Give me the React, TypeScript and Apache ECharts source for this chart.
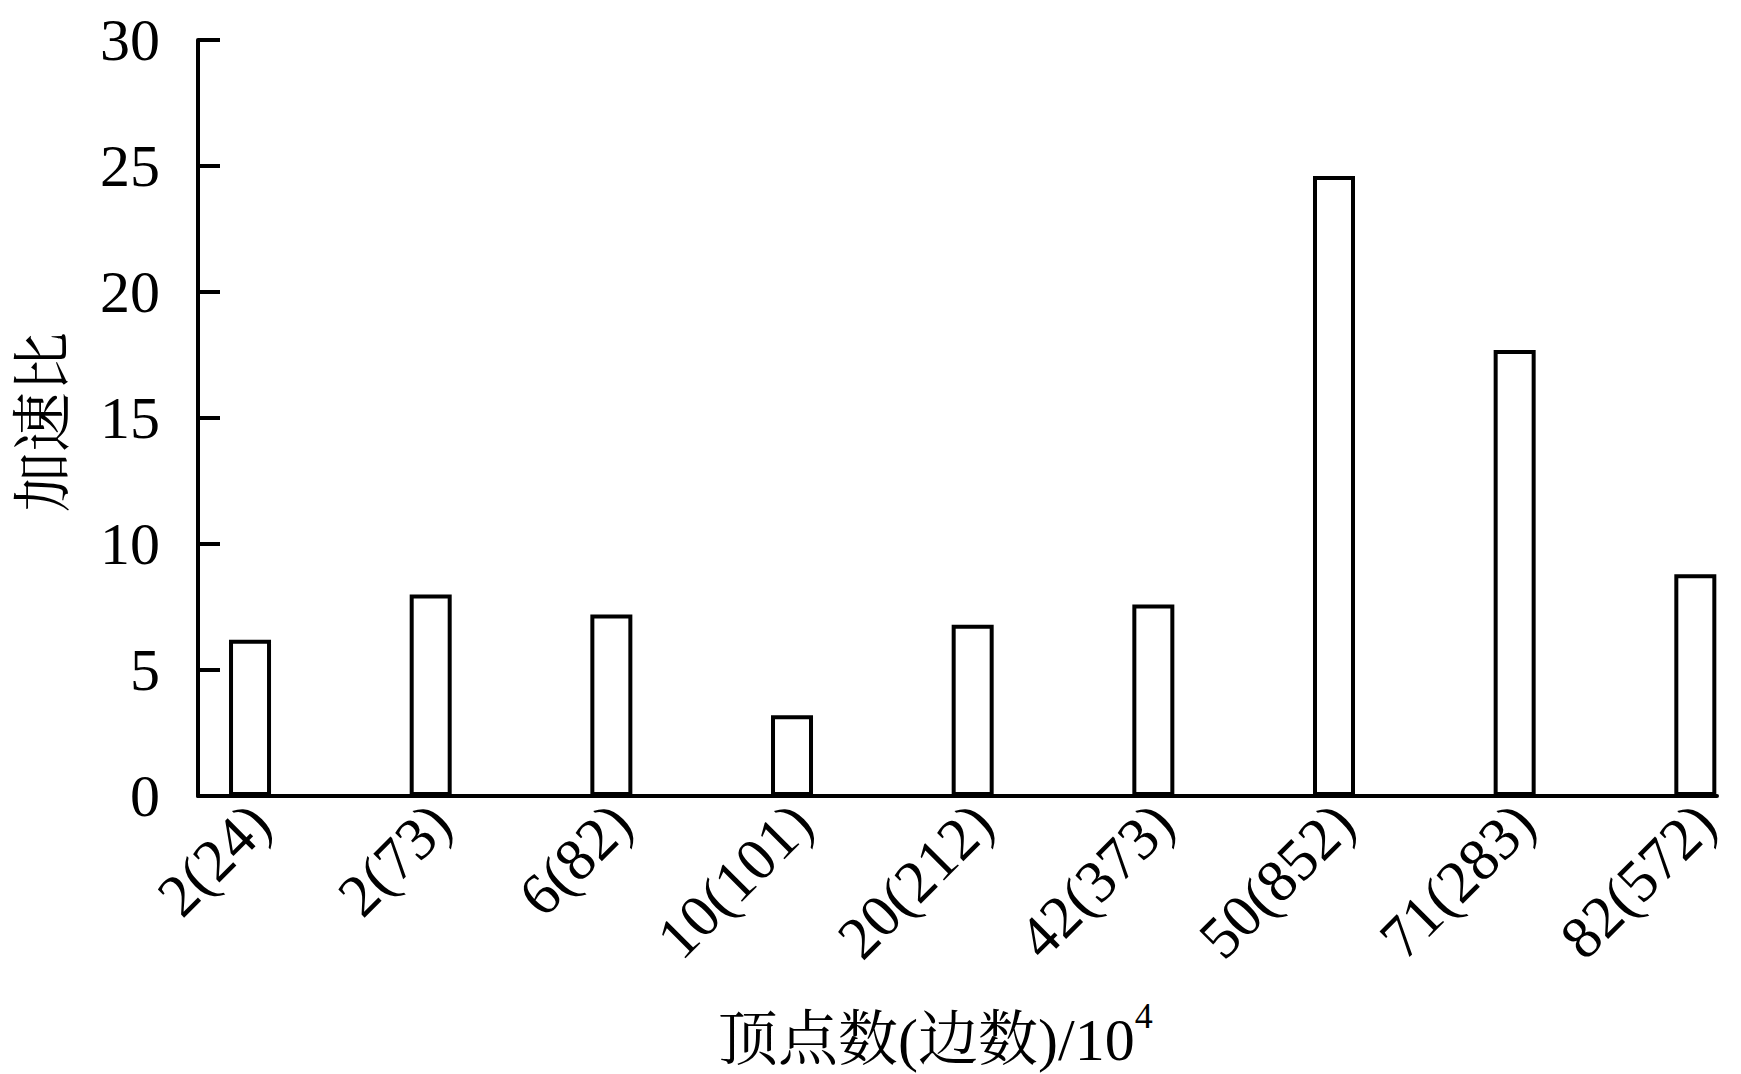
import React, { useEffect, useRef } from "react";
import * as echarts from "echarts";

const categories = ["2(24)", "2(73)", "6(82)", "10(101)", "20(212)", "42(373)", "50(852)", "71(283)", "82(572)"];
const speedup = [6.2, 8.0, 7.2, 3.2, 6.8, 7.6, 24.6, 17.7, 8.8];
const yTicks = [0, 5, 10, 15, 20, 25, 30];
const xTitle = "顶点数(边数)/10";
const xTitleSup = "4";
const yTitle = "加速比";

const FONT = '"Times New Roman", "Liberation Serif", "Noto Serif CJK SC", "Noto Sans CJK SC", serif';

export default function App() {
  const ref = useRef<HTMLDivElement>(null);
  useEffect(() => {
    if (!ref.current) return;
    const chart = echarts.init(ref.current, null, { renderer: "svg" });
    const idx = categories.map((_, i) => i);
    chart.setOption({
      animation: false,
      backgroundColor: "#ffffff",
      grid: { left: 198, right: 24, top: 40, bottom: 278, containLabel: false, outerBoundsMode: "none" },
      xAxis: {
        type: "value",
        min: -0.288,
        max: 8.12,
        splitLine: { show: false },
        axisTick: { show: false },
        axisLine: { show: true, onZero: false, lineStyle: { color: "#000", width: 4 } },
        axisLabel: {
          customValues: idx,
          formatter: (v: number) => categories[Math.round(v)] ?? "",
          rotate: 45,
          margin: -15,
          align: "right",
          verticalAlign: "top",
          padding: [0, 16, 0, 0],
          color: "#000",
          fontSize: 60,
          fontFamily: FONT,
        },
      },
      yAxis: {
        type: "value",
        min: yTicks[0],
        max: yTicks[yTicks.length - 1],
        interval: 5,
        splitLine: { show: false },
        axisLine: { show: true, onZero: false, lineStyle: { color: "#000", width: 4 } },
        axisTick: { show: true, inside: true, length: 22, lineStyle: { color: "#000", width: 4 } },
        axisLabel: { margin: 38, color: "#000", fontSize: 60, fontFamily: FONT },
      },
      series: [
        {
          type: "bar",
          data: speedup.map((v, i) => [i, v]),
          barWidth: 42,
          itemStyle: { color: "#ffffff", borderColor: "#000", borderWidth: 4 },
          z: 1,
        },
      ],
      graphic: [
        {
          type: "text",
          left: 718,
          top: 998,
          style: {
            text: `{a|${xTitle}}{s|${xTitleSup}}`,
            rich: {
              a: { fontSize: 60, fontFamily: FONT, fill: "#000", lineHeight: 72, verticalAlign: "bottom" },
              s: { fontSize: 36, fontFamily: FONT, fill: "#000", lineHeight: 72, verticalAlign: "top", padding: [0, 0, 24, 0] },
            },
          },
        },
        {
          type: "text",
          x: 44,
          y: 422,
          rotation: Math.PI / 2,
          style: {
            text: yTitle,
            fontSize: 60,
            fontFamily: FONT,
            fill: "#000",
            align: "center",
            verticalAlign: "middle",
          },
        },
      ],
    });
    return () => chart.dispose();
  }, []);
  return <div ref={ref} style={{ position: "fixed", left: 0, top: 0, width: 1741, height: 1074 }} />;
}
